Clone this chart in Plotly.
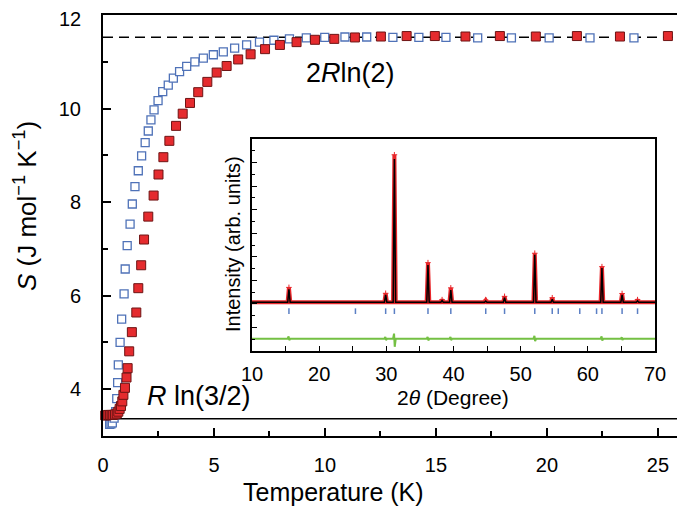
import plotly.graph_objects as go

# ---------------- main panel data (entropy) ----------------
T_blue = [0.30, 0.36, 0.42, 0.50, 0.57, 0.62, 0.66, 0.69, 0.77, 0.84, 0.95, 1.00, 1.09, 1.22,
          1.32, 1.44, 1.59, 1.74, 1.90, 2.04, 2.16, 2.30, 2.48, 2.69, 2.94, 3.17, 3.45, 3.77,
          4.14, 4.52, 4.97, 5.42, 5.93, 6.47, 7.05, 7.70, 8.40, 9.16, 9.99, 10.90, 11.88,
          13.06, 14.23, 15.45, 16.88, 18.40, 20.10, 21.94, 23.92, 26.07]
S_blue = [3.25, 3.26, 3.28, 3.38, 3.52, 3.80, 4.14, 4.52, 5.00, 5.50, 6.04, 6.57, 7.07, 7.53,
          7.96, 8.33, 8.67, 8.99, 9.27, 9.52, 9.76, 9.97, 10.17, 10.36, 10.50, 10.65, 10.79,
          10.90, 11.00, 11.08, 11.15, 11.21, 11.29, 11.36, 11.42, 11.46, 11.49, 11.51, 11.52,
          11.53, 11.53, 11.52, 11.52, 11.52, 11.51, 11.51, 11.51, 11.51, 11.51, 11.51]

T_red = [0.10, 0.17, 0.24, 0.32, 0.39, 0.46, 0.54, 0.62, 0.69, 0.75, 0.81, 0.87, 0.92, 0.99,
         1.06, 1.11, 1.18, 1.30, 1.50, 1.59, 1.72, 1.85, 2.04, 2.28, 2.50, 2.72, 2.99, 3.29,
         3.59, 3.92, 4.29, 4.70, 5.12, 5.57, 6.09, 6.65, 7.30, 7.97, 8.72, 9.55, 10.42, 11.35,
         12.52, 13.68, 14.95, 16.33, 17.88, 19.50, 21.35, 23.29, 25.45]
S_red = [3.44, 3.44, 3.45, 3.45, 3.45, 3.45, 3.46, 3.48, 3.52, 3.58, 3.64, 3.74, 3.88, 4.03,
         4.25, 4.45, 4.81, 5.22, 5.64, 6.16, 6.65, 7.20, 7.69, 8.14, 8.59, 8.96, 9.31, 9.63,
         9.89, 10.12, 10.35, 10.57, 10.77, 10.91, 11.05, 11.16, 11.27, 11.36, 11.42, 11.47,
         11.49, 11.52, 11.54, 11.55, 11.55, 11.54, 11.55, 11.54, 11.55, 11.54, 11.55]

S_2Rln2 = 11.526
S_Rln32 = 3.371
T_range = [0, 26.13]
S_range = [3, 12]
T_ticks = [0, 5, 10, 15, 20, 25]
S_ticks = [4, 6, 8, 10, 12]
S_ticktext = ["4", "6", "8", "10", ""]   # top label "12" drawn as annotation below
S_top_label = "12"

# ---------------- inset data (XRD refinement) ----------------
tt_range = [10, 70]
inset_y_range = [0, 9]
tt_ticks = [10, 20, 30, 40, 50, 60, 70]
bg_level = 2.07
peak_pos = [15.5, 29.9, 31.2, 36.2, 38.3, 39.6, 44.8, 47.6, 52.1, 54.7, 62.1, 65.1, 67.4]
peak_calc = [2.62, 2.38, 8.15, 3.65, 2.14, 2.59, 2.12, 2.26, 4.08, 2.20, 3.52, 2.38, 2.13]
peak_obs = [2.70, 2.45, 8.33, 3.75, 2.18, 2.68, 2.16, 2.32, 4.15, 2.26, 3.58, 2.44, 2.18]
bragg_pos = [15.5, 25.4, 29.9, 31.2, 36.2, 39.6, 44.8, 47.6, 52.1, 54.7, 55.6, 58.8,
             61.3, 62.1, 65.1, 67.4]
bragg_lo, bragg_hi = 1.57, 1.81
diff_level = 0.52
diff_pos = [15.5, 29.9, 31.2, 36.2, 39.6, 52.1, 62.1, 65.1]
diff_hi = [0.62, 0.60, 0.74, 0.60, 0.60, 0.64, 0.62, 0.58]
diff_lo = [0.46, 0.46, 0.18, 0.45, 0.46, 0.42, 0.44, 0.47]

# build polylines from the read values
def profile(heights, half):
    xs, ys = [tt_range[0]], [bg_level]
    for p, h in zip(peak_pos, heights):
        xs += [p - half, p, p + half]
        ys += [bg_level, h, bg_level]
    xs.append(tt_range[1]); ys.append(bg_level)
    return xs, ys

calc_x, calc_y = profile(peak_calc, 0.18)
obs_x, obs_y = profile(peak_obs, 0.2)

dx, dy = [tt_range[0]], [diff_level]
for p, hi, lo in zip(diff_pos, diff_hi, diff_lo):
    dx += [p - 0.2, p - 0.05, p + 0.05, p + 0.2]
    dy += [diff_level, hi, lo, diff_level]
dx.append(tt_range[1]); dy.append(diff_level)

bx, by = [], []
for p in bragg_pos:
    bx += [p, p, None]
    by += [bragg_lo, bragg_hi, None]

FONT = "Liberation Sans, Arial, Helvetica, sans-serif"
fig = go.Figure()

# reference lines
fig.add_trace(go.Scatter(x=T_range, y=[S_2Rln2, S_2Rln2], mode="lines",
                         line=dict(color="black", width=1.5, dash="10px,6px"),
                         showlegend=False, hoverinfo="skip"))
fig.add_trace(go.Scatter(x=T_range, y=[S_Rln32, S_Rln32], mode="lines",
                         line=dict(color="black", width=1.5),
                         showlegend=False, hoverinfo="skip"))

fig.add_trace(go.Scatter(x=T_blue, y=S_blue, mode="markers",
                         marker=dict(symbol="square", size=8, color="white",
                                     line=dict(color="#4f72b8", width=1.3)),
                         showlegend=False))
fig.add_trace(go.Scatter(x=T_red, y=S_red, mode="markers", cliponaxis=False,
                         marker=dict(symbol="square", size=9, color="#e52b2e",
                                     line=dict(color="#6e1414", width=1)),
                         showlegend=False))

# inset traces
fig.add_trace(go.Scatter(x=obs_x, y=obs_y, xaxis="x2", yaxis="y2", mode="lines",
                         line=dict(color="#e8262a", width=4), showlegend=False))
fig.add_trace(go.Scatter(x=peak_pos, y=peak_obs, xaxis="x2", yaxis="y2", mode="markers",
                         marker=dict(symbol="cross-thin", size=4,
                                     line=dict(color="#e8262a", width=1)),
                         showlegend=False))
fig.add_trace(go.Scatter(x=calc_x, y=calc_y, xaxis="x2", yaxis="y2", mode="lines",
                         line=dict(color="black", width=1.5), showlegend=False))
fig.add_trace(go.Scatter(x=bx, y=by, xaxis="x2", yaxis="y2", mode="lines",
                         line=dict(color="#5b7fc4", width=1.5), showlegend=False))
fig.add_trace(go.Scatter(x=dx, y=dy, xaxis="x2", yaxis="y2", mode="lines",
                         line=dict(color="#74c043", width=2), showlegend=False))

# page has an 8px body margin: lay out in screen pixels, offset into figure pixels
OFF = 8
W, H = 685 - OFF, 514 - OFF
X0, X1, Y0, Y1 = 103, 683, 15, 436          # main plot box in screen pixels
L, R, Tm, B = X0 - OFF, W - (X1 - OFF), Y0 - OFF, H - (Y1 - OFF)
pw, ph = X1 - X0, Y1 - Y0

def px(xp):
    return (xp - X0) / pw

def py(yp):
    return (Y1 - yp) / ph

fig.update_layout(
    width=W, height=H,
    margin=dict(l=L, r=R, t=Tm, b=B, autoexpand=False),
    paper_bgcolor="white", plot_bgcolor="white",
    font=dict(family=FONT, color="black", size=20),
    xaxis=dict(range=T_range, tickvals=T_ticks, ticks="inside", ticklen=8, tickwidth=1.5,
               tickcolor="black", showline=True, linecolor="black", linewidth=2,
               mirror=True, showgrid=False, zeroline=False, ticklabelstandoff=10,
               automargin=False, tickfont=dict(size=20), ticklabeloverflow="allow",
               minor=dict(dtick=2.5, tick0=0, ticks="inside", ticklen=5, tickwidth=1.5,
                          tickcolor="black")),
    yaxis=dict(range=S_range, tickvals=S_ticks, ticktext=S_ticktext, ticks="inside",
               ticklen=8, tickwidth=1.5,
               tickcolor="black", showline=True, linecolor="black", linewidth=2,
               mirror=True, showgrid=False, zeroline=False, ticklabelstandoff=16,
               automargin=False, tickfont=dict(size=20), ticklabeloverflow="allow",
               minor=dict(dtick=1, tick0=3, ticks="inside", ticklen=5, tickwidth=1.5,
                          tickcolor="black")),
    xaxis2=dict(domain=[px(252), px(655)], anchor="y2", range=tt_range, tickvals=tt_ticks,
                ticks="inside", ticklen=5, tickwidth=1.2, tickcolor="black",
                showline=True, linecolor="black", linewidth=1.5, mirror=True,
                showgrid=False, zeroline=False, ticklabelstandoff=4, automargin=False,
                tickfont=dict(size=20),
                minor=dict(dtick=5, tick0=10, ticks="inside", ticklen=5, tickwidth=1.2,
                           tickcolor="black")),
    yaxis2=dict(domain=[py(351), py(139)], anchor="x2", range=inset_y_range, dtick=1,
                ticks="inside", ticklen=5, tickwidth=1.2, tickcolor="black",
                showticklabels=False, showline=True, linecolor="black", linewidth=1.5,
                mirror=True, showgrid=False, zeroline=False, automargin=False,
                minor=dict(dtick=0.5, tick0=0, ticks="inside", ticklen=3, tickwidth=1.2,
                           tickcolor="black")),
    annotations=[
        dict(text=S_top_label, x=px(83), y=py(19), xref="paper", yref="paper",
             showarrow=False, font=dict(size=20), xanchor="right", yanchor="middle"),
        dict(text="Temperature (K)", x=px(333), y=py(492), xref="paper", yref="paper",
             showarrow=False, font=dict(size=25), xanchor="center", yanchor="middle"),
        dict(text="<i>S</i> (J mol<sup>−1</sup> K<sup>−1</sup>)", x=px(26), y=py(206),
             xref="paper", yref="paper", showarrow=False, textangle=-90,
             font=dict(size=26), xanchor="center", yanchor="middle"),
        dict(text="2<i>R</i>ln(2)", x=px(350), y=py(73), xref="paper", yref="paper",
             showarrow=False, font=dict(size=27), xanchor="center", yanchor="middle"),
        dict(text="<i>R</i> ln(3/2)", x=px(199), y=py(396), xref="paper", yref="paper",
             showarrow=False, font=dict(size=27), xanchor="center", yanchor="middle"),
        dict(text="2<i>θ</i> (Degree)", x=px(453), y=py(397), xref="paper", yref="paper",
             showarrow=False, font=dict(size=21), xanchor="center", yanchor="middle"),
        dict(text="Intensity (arb. units)", x=px(233), y=py(244), xref="paper", yref="paper",
             showarrow=False, textangle=-90, font=dict(size=20),
             xanchor="center", yanchor="middle"),
    ],
)

fig.write_html("out.html")
